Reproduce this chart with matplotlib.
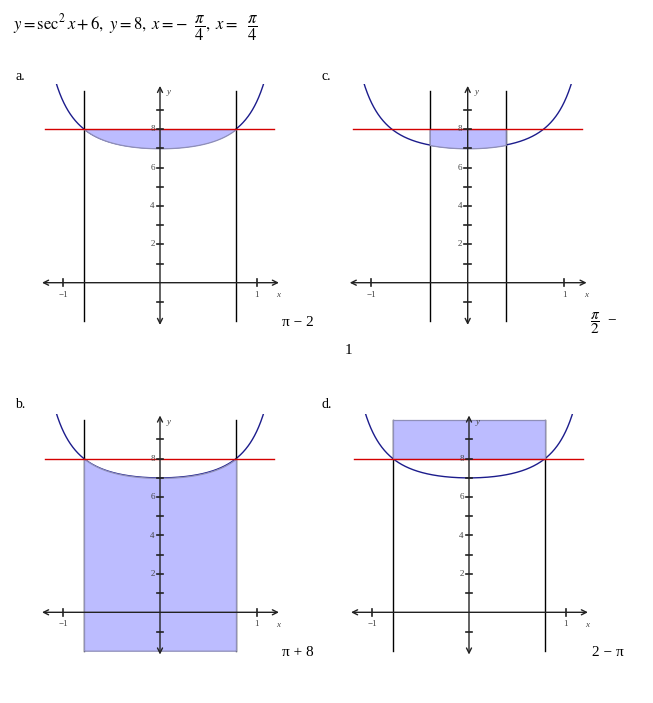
import numpy as np
import matplotlib
matplotlib.use("Agg")
import matplotlib.pyplot as plt

plt.rcParams['font.family'] = ['Liberation Serif', 'DejaVu Serif']
plt.rcParams['mathtext.fontset'] = 'stix'

W, H = 653, 703
UX, UY = 96.7, 19.2          # pixels per data unit

# the problem
curve_xmax = 1.08            # curve drawn for |x| <= this
line_y = 8
y_ticks = [-1, 1, 2, 3, 4, 5, 6, 7, 8, 9]
y_ticklabels = {2: '2', 4: '4', 6: '6', 8: '8'}
x_ticks = [-1, 1]
x_ticklabels = ['\u22121', '1']

# the four choices
panel_labels = ['a.', 'b.', 'c.', 'd.']
answers = ['\u03c0 \u2212 2', '\u03c0 + 8', None, '2 \u2212 \u03c0']
vlines_x = [np.pi / 4, np.pi / 4, np.pi / 8, np.pi / 4]   # vertical lines at +/- this
fill_kind = ['curve-8', 'bottom-curve', 'curve-8', '8-top']
origins = [(160, 282.7), (160, 612.3), (467.7, 282.7), (469.0, 612.3)]  # pixel origin of each panel

fig = plt.figure(figsize=(W / 100, H / 100), dpi=100)


def f(x):
    return 1 / np.cos(x) ** 2 + 6


def panel(x0, y0):
    xlim = (-1.3, 1.3)
    ylim = (-2.4, 10.35)
    left = x0 + xlim[0] * UX
    right = x0 + xlim[1] * UX
    top = y0 - ylim[1] * UY
    bottom = y0 - ylim[0] * UY
    ax = fig.add_axes([left / W, 1 - bottom / H, (right - left) / W, (bottom - top) / H])
    ax.set_xlim(xlim)
    ax.set_ylim(ylim)
    ax.axis('off')
    return ax


def px_text(x, y, s, **kw):
    fig.text(x / W, 1 - y / H, s, **kw)


axis_col = '#222222'
fill_col = '#bcbcff'

for i in range(4):
    ax = panel(*origins[i])
    a = vlines_x[i]

    # axes with arrows (drawn above the shading)
    ax.annotate('', xy=(1.23, 0), xytext=(-1.22, 0),
                arrowprops=dict(arrowstyle='<->', lw=1, color=axis_col,
                                mutation_scale=9, shrinkA=0, shrinkB=0), zorder=5)
    ax.annotate('', xy=(0, 10.25), xytext=(0, -2.2),
                arrowprops=dict(arrowstyle='<->', lw=1, color=axis_col,
                                mutation_scale=9, shrinkA=0, shrinkB=0), zorder=5)
    for t in y_ticks:
        ax.plot([-0.036, 0.036], [t, t], color=axis_col, lw=1.2, zorder=5)
        if t in y_ticklabels:
            ax.text(-0.055, t, y_ticklabels[t], ha='right', va='center',
                    fontsize=6.5, color='#444444', zorder=5)
    for t, lab in zip(x_ticks, x_ticklabels):
        ax.plot([t, t], [-0.17, 0.17], color=axis_col, lw=1.2, zorder=5)
        ax.text(t, -0.62, lab, ha='center', va='center', fontsize=6.5, color='#444444', zorder=5)
    ax.text(1.225, -0.64, 'x', ha='center', va='center', fontsize=6.5,
            style='italic', color='#444444', zorder=5)
    ax.text(0.07, 9.93, 'y', ha='left', va='center', fontsize=6.5,
            style='italic', color='#444444', zorder=5)

    # curve, line y=8, vertical lines
    xs = np.linspace(-curve_xmax, curve_xmax, 400)
    ax.plot(xs, f(xs), color='#1c1c8c', lw=1, zorder=2)
    ax.plot([-1.19, 1.18], [line_y, line_y], color='#d40000', lw=1, zorder=4)
    ax.plot([-a, -a], [-2, 10], color='black', lw=1, zorder=2)
    ax.plot([a, a], [-2, 10], color='black', lw=1, zorder=2)

    # shaded region
    xf = np.linspace(-a, a, 200)
    if fill_kind[i] == 'curve-8':
        lo, hi = f(xf), np.full_like(xf, line_y)
    elif fill_kind[i] == 'bottom-curve':
        lo, hi = np.full_like(xf, -2), f(xf)
    else:
        lo, hi = np.full_like(xf, line_y), np.full_like(xf, 10)
    ax.fill_between(xf, lo, hi, facecolor=fill_col, edgecolor='#8f8fb8', lw=0.9, zorder=3)

# panel letters
px_text(15, 76, 'a.', fontsize=10, va='center')
px_text(322, 76, 'c.', fontsize=10, va='center')
px_text(15, 405, 'b.', fontsize=10, va='center')
px_text(322, 405, 'd.', fontsize=10, va='center')

# answers
px_text(282, 323, answers[0], fontsize=11, va='center')
px_text(282, 653, answers[1], fontsize=11, va='center')
px_text(592, 653, answers[3], fontsize=11, va='center')
px_text(590, 323, r'$\dfrac{\pi}{2}$' + '  \u2212', fontsize=11, va='center')
px_text(345, 351, '1', fontsize=11, va='center')

# problem statement
px_text(13, 28, r'$y = \sec^2 x + 6,\ y = 8,\ x = -\ \ \dfrac{\pi}{4},\ x = \ \ \dfrac{\pi}{4}$',
        fontsize=12, va='center')

fig.savefig('out.png', dpi=100)
